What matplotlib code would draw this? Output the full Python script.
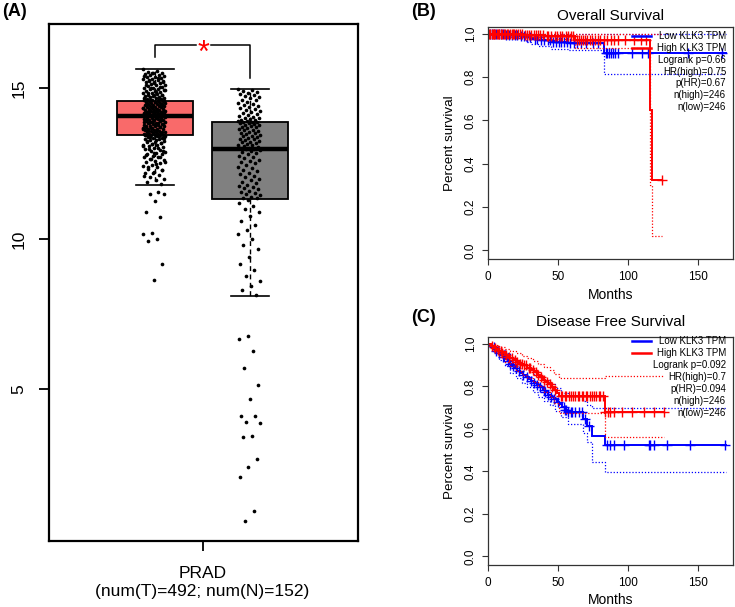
import numpy as np
import matplotlib
matplotlib.use('Agg')
import matplotlib.pyplot as plt
from matplotlib.lines import Line2D

plt.rcParams['font.family'] = ['Liberation Sans', 'DejaVu Sans']

# ---------------- Panel A data ----------------
groups = ['Tumor', 'Normal']
box_colors = ['#F96A6A', '#808080']
box_q1 = [13.43, 11.33]
box_med = [14.07, 12.97]
box_q3 = [14.57, 13.87]
whisk_lo = [11.80, 8.10]
whisk_hi = [15.63, 14.97]
tick_label_A = 'PRAD\n(num(T)=492; num(N)=152)'
sig_y = 16.43
sig_leg_y = [16.03, 15.33]

tumor_vals = [
    15.63, 15.58, 15.55, 15.52, 15.50, 15.47, 15.44, 15.43, 15.40, 15.38, 15.36, 15.33, 15.31, 15.30,
    15.27, 15.25, 15.22, 15.20, 15.19, 15.16, 15.13, 15.11, 15.09, 15.07, 15.04, 15.02, 15.00, 14.98,
    14.96, 14.93, 14.91, 14.90, 14.87, 14.85, 14.83, 14.81, 14.79, 14.77, 14.76, 14.74, 14.72, 14.70,
    14.69, 14.67, 14.65, 14.63, 14.62, 14.60, 14.59, 14.58,
    14.56, 14.55, 14.54, 14.52, 14.51, 14.50, 14.48, 14.47, 14.46, 14.45, 14.43, 14.42, 14.41, 14.40,
    14.38, 14.37, 14.36, 14.35, 14.33, 14.32, 14.31, 14.30, 14.28, 14.27, 14.26, 14.25, 14.24, 14.23,
    14.22, 14.21, 14.20, 14.19, 14.18, 14.17, 14.16, 14.15, 14.14, 14.13, 14.12, 14.11, 14.10, 14.09,
    14.09, 14.08, 14.08, 14.07, 14.07, 14.06,
    14.05, 14.03, 14.02, 14.00, 13.99, 13.97, 13.96, 13.94, 13.93, 13.91, 13.90, 13.88, 13.87, 13.85,
    13.84, 13.82, 13.81, 13.79, 13.78, 13.76, 13.75, 13.73, 13.72, 13.70, 13.69, 13.67, 13.66, 13.64,
    13.63, 13.61, 13.60, 13.58, 13.57, 13.55, 13.54, 13.53, 13.51, 13.50, 13.49, 13.48, 13.47, 13.46,
    13.45, 13.44, 13.44, 13.43,
    13.42, 13.40, 13.38, 13.36, 13.34, 13.32, 13.30, 13.27, 13.25, 13.22, 13.20, 13.17, 13.15, 13.12,
    13.10, 13.07, 13.04, 13.01, 12.98, 12.95, 12.92, 12.89, 12.86, 12.83, 12.80, 12.76, 12.73, 12.70,
    12.66, 12.62, 12.58, 12.54, 12.50, 12.46, 12.42, 12.38, 12.33, 12.28, 12.23, 12.18, 12.12, 12.06,
    12.00, 11.94, 11.88, 11.82,
    15.49, 15.41, 15.34, 15.28, 15.23, 15.17, 15.12, 15.05, 14.99, 14.94, 14.88, 14.84, 14.78, 14.73,
    14.68, 14.64, 14.61, 14.57, 14.53, 14.49, 14.44, 14.39, 14.34, 14.29, 14.26, 14.22, 14.19, 14.15,
    14.12, 14.10, 14.04, 14.01, 13.98, 13.95, 13.92, 13.89, 13.86, 13.83, 13.80, 13.77, 13.74, 13.71,
    13.68, 13.65, 13.62, 13.59, 13.56, 13.52, 13.46, 13.41, 13.37, 13.33, 13.29, 13.24, 13.19, 13.14,
    13.09, 13.03, 12.97, 12.90, 12.84, 12.78, 12.71, 12.64, 12.56, 12.48, 12.40, 12.30, 12.20, 12.10,
    11.56, 11.50, 11.48, 11.27, 10.90, 10.73, 10.18, 10.17, 10.00, 9.93, 9.18, 8.62,
]

normal_vals = [
    14.97, 14.93, 14.90, 14.88, 14.85, 14.80, 14.77, 14.73, 14.70, 14.66, 14.62, 14.60, 14.55, 14.50,
    14.47, 14.43, 14.40, 14.36, 14.33, 14.30, 14.27, 14.24, 14.20, 14.17, 14.14, 14.10, 14.08, 14.05,
    14.02, 14.00, 13.98, 13.96, 13.94, 13.92, 13.90, 13.89, 13.88, 13.87,
    13.86, 13.84, 13.82, 13.79, 13.77, 13.75, 13.72, 13.70, 13.67, 13.64, 13.62, 13.60, 13.57, 13.54,
    13.52, 13.50, 13.47, 13.44, 13.42, 13.40, 13.37, 13.34, 13.32, 13.30, 13.27, 13.24, 13.22, 13.20,
    13.17, 13.14, 13.12, 13.10, 13.07, 13.05, 13.03, 13.01, 12.99, 12.97,
    12.95, 12.92, 12.88, 12.85, 12.80, 12.76, 12.72, 12.68, 12.63, 12.58, 12.54, 12.50, 12.45, 12.40,
    12.35, 12.30, 12.25, 12.20, 12.15, 12.10, 12.05, 12.00, 11.95, 11.90, 11.85, 11.80, 11.76, 11.72,
    11.68, 11.64, 11.60, 11.56, 11.52, 11.48, 11.44, 11.40, 11.37, 11.34,
    11.30, 11.20, 11.10, 11.00, 10.90, 10.75, 10.60, 10.45, 10.30, 10.15, 10.00, 9.80, 9.65, 9.40,
    9.18, 8.95, 8.77, 8.60, 8.43, 8.30, 8.12,
    6.76, 6.69, 6.26, 5.72, 5.16, 4.67, 4.13, 4.12, 3.93, 3.88, 3.44, 3.43, 2.69, 2.42, 2.09, 0.97, 0.63,
]

# ---------------- Panel B data (Overall Survival) ----------------
os_low_t = [0, 12, 22, 27, 31, 36, 45, 57, 83]
os_low_s = [1.0, 0.995, 0.99, 0.984, 0.978, 0.971, 0.964, 0.957, 0.911]
os_low_lo_s = [1.0, 0.985, 0.975, 0.962, 0.952, 0.942, 0.932, 0.925, 0.815]
os_low_end = 170
os_high_t = [0, 25, 40, 62, 116, 117]
os_high_s = [1.0, 0.996, 0.99, 0.972, 0.648, 0.324]
os_high_lo_s = [1.0, 0.985, 0.975, 0.935, 0.30, 0.066]
os_high_end = 124
os_hi_t = [0]
os_low_hi_s = [1.0]
os_high_hi_s = [1.0]
os_high_cens = [0.8, 1.7, 2.5, 3.4, 4.6, 5.3, 6.1, 7.2, 8.0, 9.1, 10.3, 11.2, 12.4, 13.5, 14.3, 15.6,
                16.8, 17.5, 18.9, 20.1, 21.4, 22.6, 24.0, 26.2, 27.5, 29.0, 30.8, 32.5, 34.1, 35.9,
                37.2, 39.5, 41.8, 43.0, 45.3, 47.6, 49.0, 51.4, 53.2, 55.7, 57.1, 59.4, 60.8, 63.5,
                64.7, 66.2, 67.9, 69.4, 71.0, 72.6, 74.3, 76.1, 78.5, 80.2, 82.7, 85.0, 87.6, 90.3,
                92.8, 97.5, 104.0, 109.5, 113.0, 124.0]
os_low_cens = [1.2, 2.9, 4.1, 5.8, 7.5, 9.6, 11.0, 13.2, 15.1, 17.3, 19.6, 21.0, 23.8, 25.5, 28.2,
               30.1, 33.4, 35.0, 37.8, 40.2, 42.5, 44.1, 46.7, 48.3, 50.6, 52.0, 54.4, 56.1, 58.8,
               61.3, 63.9, 66.5, 70.2, 74.8, 78.4, 84.2, 85.3, 86.4, 87.9, 89.1, 91.0, 93.2, 103.0,
               110.0, 114.0, 143.0, 167.0]
os_legend = ['Low KLK3 TPM', 'High KLK3 TPM', 'Logrank p=0.66', 'HR(high)=0.75',
             'p(HR)=0.67', 'n(high)=246', 'n(low)=246']

# ---------------- Panel C data (Disease Free Survival) ----------------
dfs_low_t = [0, 1.5, 3, 4.5, 6, 7.5, 9, 10.5, 12, 14, 15.5, 17, 19, 21, 23, 25, 27, 29, 31, 33, 35,
             37, 39, 41, 43, 45, 47, 49, 51, 53, 55, 57, 68, 71, 74, 83.5]
dfs_low_s = [1.0, 0.992, 0.984, 0.975, 0.966, 0.957, 0.948, 0.94, 0.93, 0.918, 0.906, 0.895, 0.884,
             0.873, 0.862, 0.852, 0.843, 0.834, 0.825, 0.815, 0.806, 0.795, 0.783, 0.772, 0.761,
             0.75, 0.74, 0.728, 0.716, 0.703, 0.69, 0.678, 0.645, 0.612, 0.568, 0.526]
dfs_low_end = 170
dfs_low_ci_t = [0, 4, 8, 12, 16, 20, 24, 28, 32, 36, 40, 44, 48, 52, 57, 68, 71, 74, 83.5]
dfs_low_hi_s = [1.0, 0.99, 0.97, 0.955, 0.935, 0.915, 0.9, 0.88, 0.86, 0.845, 0.83, 0.81, 0.79,
                0.77, 0.755, 0.73, 0.71, 0.70, 0.70]
dfs_low_lo_s = [1.0, 0.96, 0.925, 0.895, 0.865, 0.84, 0.815, 0.795, 0.772, 0.752, 0.73, 0.71, 0.685,
                0.655, 0.625, 0.58, 0.54, 0.445, 0.395]
dfs_high_t = [0, 2, 4, 6, 8, 10, 12, 14, 16, 18, 20, 22, 25, 28, 31, 33, 35, 37, 39, 41, 43, 45, 47,
              49, 50.5, 83.3]
dfs_high_s = [1.0, 0.99, 0.982, 0.973, 0.965, 0.957, 0.948, 0.94, 0.932, 0.924, 0.915, 0.907, 0.898,
              0.888, 0.877, 0.866, 0.855, 0.843, 0.832, 0.821, 0.81, 0.799, 0.785, 0.77, 0.755, 0.678]
dfs_high_end = 125.4
dfs_high_ci_t = [0, 4, 8, 12, 16, 20, 24, 28, 32, 36, 40, 44, 47, 50.5, 83.3]
dfs_high_hi_s = [1.0, 0.995, 0.986, 0.975, 0.965, 0.955, 0.944, 0.932, 0.92, 0.905, 0.893, 0.876,
                 0.86, 0.837, 0.85]
dfs_high_lo_s = [1.0, 0.965, 0.94, 0.915, 0.895, 0.872, 0.855, 0.838, 0.82, 0.8, 0.775, 0.752, 0.72,
                 0.677, 0.56]
dfs_high_cens = [3, 5, 7, 9, 10, 13, 15, 17, 19, 21, 23, 24, 26, 27, 29, 30, 32, 34, 36, 38, 40, 42,
                 44, 46, 48, 52, 53, 55, 56, 58, 59, 61, 62, 64, 65, 67, 68, 70, 71, 73, 74, 76, 77,
                 79, 80, 82, 83.8, 85.4, 86.9, 89.7, 95.7, 102.9, 111.1, 118.3, 125.4]
dfs_low_cens = [4, 6, 8, 11, 14, 16, 18, 20, 22, 25, 28, 31, 33, 35, 37, 40, 41, 43, 45, 47, 50, 54,
                55, 56, 57, 59, 60, 62, 65, 67, 69, 72, 84.8, 87.4, 89.7, 96.9, 114.7, 115.9, 118.3,
                127.9, 144.5, 169.5]
dfs_legend = ['Low KLK3 TPM', 'High KLK3 TPM', 'Logrank p=0.092', 'HR(high)=0.7',
              'p(HR)=0.094', 'n(high)=246', 'n(low)=246']

surv_xticks = [0, 50, 100, 150]
surv_yticks = [0.0, 0.2, 0.4, 0.6, 0.8, 1.0]

# ---------------- Figure ----------------
W, H = 735, 607
fig = plt.figure(figsize=(W / 100, H / 100), dpi=100)


def rect(l, t, r, b):
    return [l / W, 1 - b / H, (r - l) / W, (b - t) / H]


def fx(x):
    return x / W


def fy(y):
    return 1 - y / H


# ---- Panel A ----
axA = fig.add_axes(rect(49, 24, 358, 541))
stats = [dict(q1=box_q1[i], med=box_med[i], q3=box_q3[i], whislo=whisk_lo[i],
              whishi=whisk_hi[i], fliers=[], label='') for i in range(len(groups))]
bp = axA.bxp(stats, positions=[1, 2], widths=0.8, patch_artist=True, showfliers=False,
             capwidths=0.4,
             boxprops=dict(linewidth=1.3, edgecolor='black'),
             medianprops=dict(color='black', linewidth=3.2),
             whiskerprops=dict(color='black', linestyle=(0, (3.5, 2.5)), linewidth=1.0),
             capprops=dict(color='black', linewidth=1.2))
for patch, c in zip(bp['boxes'], box_colors):
    patch.set_facecolor(c)

for k, vals in enumerate([tumor_vals, normal_vals]):
    v = np.asarray(vals)
    n = len(v)
    jit = ((np.arange(n) * 0.6180339887) % 1.0) * 2 - 1
    axA.scatter(k + 1 - 0.01 + jit * 0.12, v, s=7, c='black', linewidths=0, zorder=3)

axA.plot([1, 1, 1.43], [sig_leg_y[0], sig_y, sig_y], color='black', lw=1.1)
axA.plot([1.59, 2, 2], [sig_y, sig_y, sig_leg_y[1]], color='black', lw=1.1)
axA.text(1.51, sig_y - 0.55, '*', color='red', fontsize=22, ha='center', va='baseline')

axA.set_xlim(-0.116, 3.137)
axA.set_ylim(-0.03, 17.13)
axA.set_yticks([5, 10, 15])
axA.set_yticklabels(['5', '10', '15'])
axA.set_xticks([1.5])
axA.set_xticklabels([tick_label_A], fontsize=12.5, linespacing=1.25)
axA.tick_params(axis='y', length=7, width=1.3, labelsize=12.5, pad=9)
axA.tick_params(axis='x', length=7, width=1.3, pad=11)
for lab in axA.get_yticklabels():
    lab.set_rotation(90)
    lab.set_va('center')
for sp in axA.spines.values():
    sp.set_linewidth(1.6)

fig.text(fx(2), fy(12), '(A)', fontsize=13, fontweight='bold', ha='left', va='center')


# ---- Survival panels ----
def step_line(ax, t, s, t_end, color, lw, ls):
    tt = list(t) + [t_end]
    ss = list(s) + [s[-1]]
    ax.step(tt, ss, where='post', color=color, lw=lw, ls=ls, solid_joinstyle='miter')


def censor(ax, t, s, ct, color):
    idx = np.searchsorted(np.asarray(t), np.asarray(ct), side='right') - 1
    ax.plot(ct, np.asarray(s)[idx], ls='none', marker='+', ms=6.5, mew=1.0, color=color)


def surv_panel(top, bottom, title, title_y, label, label_y, months_y,
               curves, legend_texts, leg_y0, leg_dy):
    ax = fig.add_axes(rect(488, top, 733, bottom))
    ax.set_xlim(0, 175)
    ax.set_ylim(-0.04, 1.032)
    for (t, s, end, ci_t, lo, hi_t, hi, cens, col) in curves:
        step_line(ax, ci_t, lo, end, col, 0.9, (0, (1, 1.5)))
        step_line(ax, hi_t, hi, end, col, 0.9, (0, (1, 1.5)))
        step_line(ax, t, s, end, col, 1.4, '-')
        censor(ax, t, s, cens, col)
    ax.set_xticks(surv_xticks)
    ax.set_xticklabels([str(v) for v in surv_xticks])
    ax.set_yticks(surv_yticks)
    ax.set_yticklabels(['%.1f' % v for v in surv_yticks])
    ax.tick_params(axis='both', length=4.5, width=0.8, labelsize=8.5, color='#333333')
    ax.tick_params(axis='x', pad=4)
    ax.tick_params(axis='y', pad=3.5)
    for lab in ax.get_yticklabels():
        lab.set_rotation(90)
        lab.set_va('center')
    for sp in ax.spines.values():
        sp.set_linewidth(0.9)
        sp.set_color('#333333')
    ax.set_xlabel('Months', fontsize=10)
    ax.set_ylabel('Percent survival', fontsize=9.6)
    ax.xaxis.set_label_coords(0.5, (bottom - months_y) / (bottom - top))
    ax.xaxis.label.set_va('center')
    ax.yaxis.set_label_coords((450 - 488) / 245, 0.5)
    ax.yaxis.label.set_va('center')
    fig.text(fx(610.5), fy(title_y), title, fontsize=11, ha='center', va='center')
    fig.text(fx(411), fy(label_y), label, fontsize=13, fontweight='bold', ha='left', va='center')
    # legend
    cols = ['blue', 'red']
    for i, txt in enumerate(legend_texts):
        y = leg_y0 + i * leg_dy
        if i < 2:
            fig.add_artist(Line2D([fx(631.5), fx(651)], [fy(y), fy(y)], color=cols[i], lw=1.8))
        fig.text(fx(726), fy(y), txt, fontsize=7.0, ha='right', va='center')
    return ax


curvesB = [
    (os_low_t, os_low_s, os_low_end, os_low_t, os_low_lo_s, os_hi_t, os_low_hi_s, os_low_cens, 'blue'),
    (os_high_t, os_high_s, os_high_end, os_high_t, os_high_lo_s, os_hi_t, os_high_hi_s, os_high_cens, 'red'),
]
curvesC = [
    (dfs_low_t, dfs_low_s, dfs_low_end, dfs_low_ci_t, dfs_low_lo_s, dfs_low_ci_t, dfs_low_hi_s,
     dfs_low_cens, 'blue'),
    (dfs_high_t, dfs_high_s, dfs_high_end, dfs_high_ci_t, dfs_high_lo_s, dfs_high_ci_t, dfs_high_hi_s,
     dfs_high_cens, 'red'),
]

surv_panel(27, 259, 'Overall Survival', 16, '(B)', 12, 295, curvesB, os_legend, 36.3, 11.8)
surv_panel(337, 565, 'Disease Free Survival', 322, '(C)', 318, 600, curvesC, dfs_legend, 341.3, 12.0)

fig.savefig('out.png', dpi=100)
